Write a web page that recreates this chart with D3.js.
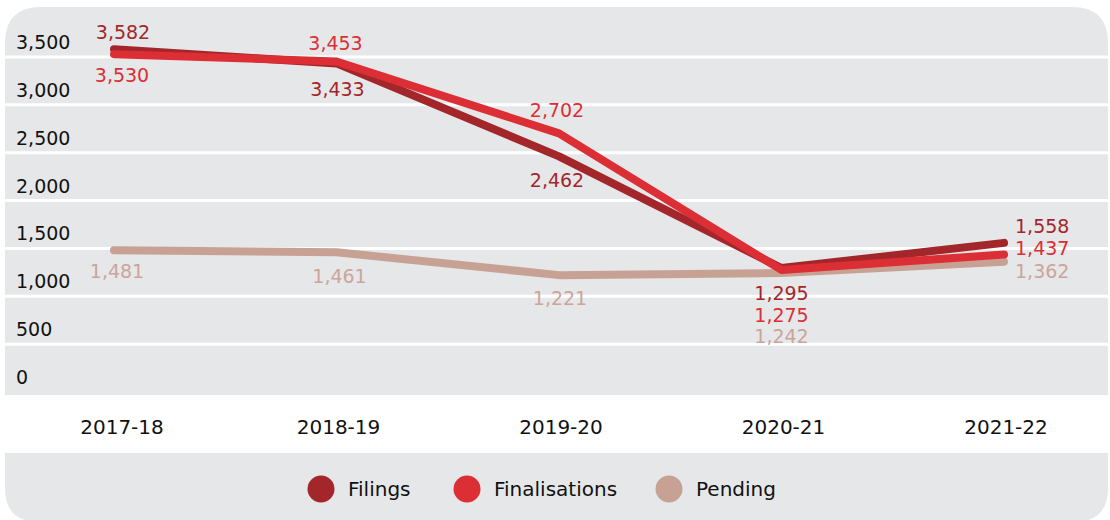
<!DOCTYPE html>
<html>
<head>
<meta charset="utf-8">
<script src="https://cdn.jsdelivr.net/npm/d3@7"></script>
<style>
  html, body { margin: 0; padding: 0; background: #ffffff; }
  svg { display: block; font-family: "DejaVu Sans", sans-serif; }
</style>
</head>
<body>
<svg id="chart" width="1110" height="520"></svg>
<script>
// ---- data ----
const categories = ["2017-18", "2018-19", "2019-20", "2020-21", "2021-22"];
const seriesNames = ["Filings", "Finalisations", "Pending"];
const filings = [3582, 3433, 2462, 1295, 1558];
const finalisations = [3530, 3453, 2702, 1275, 1437];
const pending = [1481, 1461, 1221, 1242, 1362];
const yTicks = [0, 500, 1000, 1500, 2000, 2500, 3000, 3500];

// ---- styling / label placement (not data) ----
const colors = { Filings: "#a3262a", Finalisations: "#dc2e35", Pending: "#c8a195" };
const labelColors = { Filings: "#a3262a", Finalisations: "#dc2e35", Pending: "#cba59a" };
// per-series label offsets [dx, dy, anchor]
const labelOffsets = {
  Filings:       [[9, -10, "middle"], [1, 33, "middle"], [-2, 31, "middle"], [0, 32, "middle"], [11, -10, "start"]],
  Finalisations: [[8, 28, "middle"], [-1, -11, "middle"], [-2, -16, "middle"], [0, 52, "middle"], [11, 1, "start"]],
  Pending:       [[3, 28, "middle"], [3, 31, "middle"], [1, 30, "middle"], [0, 70, "middle"], [11, 16, "start"]]
};

const svg = d3.select("#chart");
const fmt = d3.format(",");

const panelLeft = 5, panelRight = 1108, panelTop = 7, panelBottom = 395;

const x = d3.scalePoint().domain(categories).range([114, 1004]);
const y = d3.scaleLinear().domain([0, 3500]).range([392, 57]);

// top panel with rounded top corners
function topRounded(x0, y0, x1, y1, r) {
  return `M${x0},${y1} L${x0},${y0 + r} Q${x0},${y0} ${x0 + r},${y0} L${x1 - r},${y0} Q${x1},${y0} ${x1},${y0 + r} L${x1},${y1} Z`;
}
function bottomRounded(x0, y0, x1, y1, r) {
  return `M${x0},${y0} L${x1},${y0} L${x1},${y1 - r} Q${x1},${y1} ${x1 - r},${y1} L${x0 + r},${y1} Q${x0},${y1} ${x0},${y1 - r} Z`;
}
svg.append("path").attr("d", topRounded(panelLeft, panelTop, panelRight, panelBottom, 36)).attr("fill", "#e6e7e8");
svg.append("path").attr("d", bottomRounded(panelLeft, 453, panelRight, 522, 34)).attr("fill", "#e6e7e8");

// gridlines (white separators)
svg.append("g").selectAll("line")
  .data(yTicks.filter(d => d > 0))
  .join("line")
  .attr("x1", panelLeft).attr("x2", panelRight)
  .attr("y1", d => y(d)).attr("y2", d => y(d))
  .attr("stroke", "#ffffff").attr("stroke-width", 3);

// y tick labels
svg.append("g").selectAll("text")
  .data(yTicks)
  .join("text")
  .attr("x", 16)
  .attr("y", d => y(d) - 8)
  .attr("font-size", 19)
  .attr("fill", "#111111")
  .text(d => fmt(d));

// x category labels
svg.append("g").selectAll("text")
  .data(categories)
  .join("text")
  .attr("x", d => x(d) + (d === categories[0] ? 8 : 2))
  .attr("y", 434)
  .attr("text-anchor", "middle")
  .attr("font-size", 20)
  .attr("fill", "#111111")
  .text(d => d);

const series = [
  { name: "Pending", values: pending },
  { name: "Filings", values: filings },
  { name: "Finalisations", values: finalisations }
];

const line = d3.line()
  .x((d, i) => x(categories[i]))
  .y(d => y(d));

svg.append("g").selectAll("path")
  .data(series)
  .join("path")
  .attr("d", s => line(s.values))
  .attr("fill", "none")
  .attr("stroke", s => colors[s.name])
  .attr("stroke-width", 8)
  .attr("stroke-linecap", "round")
  .attr("stroke-linejoin", "round");

// data labels
series.forEach(s => {
  svg.append("g").selectAll("text")
    .data(s.values)
    .join("text")
    .attr("x", (d, i) => x(categories[i]) + labelOffsets[s.name][i][0])
    .attr("y", (d, i) => y(d) + labelOffsets[s.name][i][1])
    .attr("text-anchor", (d, i) => labelOffsets[s.name][i][2])
    .attr("font-size", 19)
    .attr("fill", labelColors[s.name])
    .text(d => fmt(d));
});

// legend
const legendX = [321, 467, 669];
const lg = svg.append("g").selectAll("g")
  .data(seriesNames)
  .join("g")
  .attr("transform", (d, i) => `translate(${legendX[i]},489)`);
lg.append("circle").attr("r", 13.5).attr("fill", d => colors[d]);
lg.append("text")
  .attr("x", 27).attr("y", 7)
  .attr("font-size", 20)
  .attr("fill", "#111111")
  .text(d => d);
</script>
</body>
</html>
